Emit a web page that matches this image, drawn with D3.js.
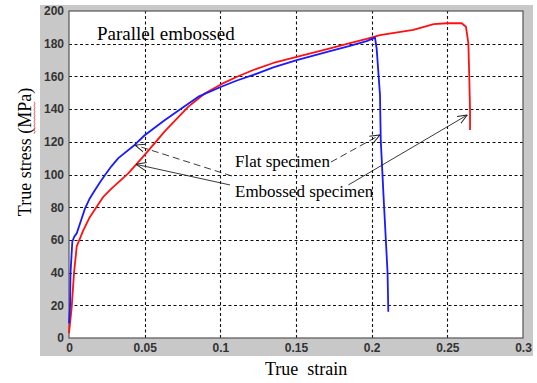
<!DOCTYPE html>
<html>
<head>
<meta charset="utf-8">
<script src="https://cdn.jsdelivr.net/npm/d3@7"></script>
<style>
  body { margin: 0; background: #fff; }
  .tick-label { font-family: "Liberation Sans", Arial, sans-serif; font-size: 12px; font-weight: bold; fill: #333; }
  .serif { font-family: "Liberation Serif", "Times New Roman", serif; fill: #000; }
</style>
</head>
<body>
<div id="chart"></div>
<script>
// x ticks and y ticks
const xTicks = [0, 0.05, 0.1, 0.15, 0.2, 0.25, 0.3];
const yTicks = [0, 20, 40, 60, 80, 100, 120, 140, 160, 180, 200];

// flat specimen (blue): [strain, stress]
const flatStrain = [0, 0.0007, 0.001, 0.0022, 0.0035, 0.0051, 0.008, 0.0106, 0.0135, 0.0172, 0.0205, 0.0238, 0.028, 0.0326, 0.0425, 0.050, 0.0634,
  0.0745, 0.0855, 0.101, 0.111, 0.1218, 0.135, 0.1505, 0.1725, 0.185, 0.1967, 0.2022, 0.2033, 0.2055, 0.206, 0.208, 0.2105, 0.211];
const flatStress = [9, 19, 39.6, 59, 62, 64, 72, 79.3, 85, 90.5, 95.3, 99.7, 105, 110, 117.4, 124, 133.3,
  140.5, 147.6, 153.8, 157.5, 160.9, 165.5, 170, 175.5, 178.5, 181.6, 183.7, 177, 148.6, 121, 84, 40, 16];

// embossed specimen (red)
const embStrain = [0, 0.0018, 0.0033, 0.0051, 0.0095, 0.0135, 0.0183, 0.0228, 0.0282, 0.039, 0.05, 0.0634, 0.0789, 0.0899,
  0.101, 0.111, 0.1218, 0.135, 0.1505, 0.1725, 0.185, 0.1967, 0.2055, 0.2275, 0.241, 0.2496, 0.2595, 0.2623, 0.2639, 0.2645, 0.265, 0.265];
const embStress = [3, 19, 39.6, 56, 66, 73.5, 80.3, 86.5, 91.5, 100.5, 112, 126.5, 141.5, 149.7,
  155.4, 159.8, 163.9, 168.2, 172, 177.2, 180.2, 182.9, 185.3, 188.5, 192, 192.5, 192.5, 190.4, 180.2, 159.8, 139.4, 127.2];

// annotation arrows: [fromX, fromY, toX, toY] in data units
const flatArrows = [[0.1076, 99.1, 0.0436, 118], [0.1731, 107.6, 0.2055, 124.2]];
const embArrows = [[0.1064, 93.6, 0.0443, 106.2], [0.1846, 93.6, 0.2632, 136.4]];

const W = 537, H = 383;
const margin = {left: 69, top: 11, right: 14, bottom: 45};

const svg = d3.select("#chart").append("svg")
  .attr("width", W).attr("height", H);

// gray figure background
svg.append("rect").attr("x", 40).attr("y", 5).attr("width", 493).attr("height", 351)
  .attr("fill", "#c8c8c8");

const x = d3.scaleLinear().domain([0, 0.3]).range([margin.left, W - margin.right]);
const y = d3.scaleLinear().domain([0, 200]).range([H - margin.bottom, margin.top]);

svg.append("rect")
  .attr("x", x(0)).attr("y", y(200))
  .attr("width", x(0.3) - x(0)).attr("height", y(0) - y(200))
  .attr("fill", "#fff");

// grid
const grid = svg.append("g").attr("stroke", "#111").attr("stroke-width", 1.1).attr("stroke-dasharray", "3,2.5");
grid.selectAll(".gx").data(xTicks.slice(1, -1)).enter().append("line")
  .attr("x1", d => Math.round(x(d)) + 0.5).attr("x2", d => Math.round(x(d)) + 0.5)
  .attr("y1", y(0)).attr("y2", y(200));
grid.selectAll(".gy").data(yTicks.slice(1, -1)).enter().append("line")
  .attr("y1", d => Math.round(y(d)) + 0.5).attr("y2", d => Math.round(y(d)) + 0.5)
  .attr("x1", x(0)).attr("x2", x(0.3));

// axes
const xAxis = svg.append("g").attr("transform", `translate(0,${y(0)})`)
  .call(d3.axisBottom(x).tickValues(xTicks).tickSize(0).tickPadding(5).tickFormat(d => d3.format("")(d)));
const yAxis = svg.append("g").attr("transform", `translate(${x(0)},0)`)
  .call(d3.axisLeft(y).tickValues(yTicks).tickSize(0).tickPadding(5));
[xAxis, yAxis].forEach(a => {
  a.select(".domain").remove();
  a.selectAll("text").attr("class", "tick-label");
});

// frame
svg.append("rect")
  .attr("x", x(0)).attr("y", y(200))
  .attr("width", x(0.3) - x(0)).attr("height", y(0) - y(200))
  .attr("fill", "none").attr("stroke", "#555").attr("stroke-width", 1.2);

const line = d3.line().x(d => x(d[0])).y(d => y(d[1]));

svg.append("path")
  .datum(embStrain.map((s, i) => [s, embStress[i]]))
  .attr("d", line).attr("fill", "none").attr("stroke", "#ff1010").attr("stroke-width", 1.8)
  .attr("stroke-linejoin", "round");
svg.append("path")
  .datum(flatStrain.map((s, i) => [s, flatStress[i]]))
  .attr("d", line).attr("fill", "none").attr("stroke", "#1a1aff").attr("stroke-width", 1.8)
  .attr("stroke-linejoin", "round");

// arrows
const defs = svg.append("defs");
defs.append("marker").attr("id", "head")
  .attr("viewBox", "0 0 10 10").attr("refX", 10).attr("refY", 5)
  .attr("markerWidth", 10).attr("markerHeight", 10).attr("markerUnits", "userSpaceOnUse")
  .attr("orient", "auto")
  .append("path").attr("d", "M0,1 L10,5 L0,9").attr("fill", "none").attr("stroke", "#222").attr("stroke-width", 1);

svg.selectAll(".flat-arrow").data(flatArrows).enter().append("line")
  .attr("x1", d => x(d[0])).attr("y1", d => y(d[1]))
  .attr("x2", d => x(d[2])).attr("y2", d => y(d[3]))
  .attr("stroke", "#222").attr("stroke-width", 0.9).attr("stroke-dasharray", "7,4")
  .attr("marker-end", "url(#head)");
svg.selectAll(".emb-arrow").data(embArrows).enter().append("line")
  .attr("x1", d => x(d[0])).attr("y1", d => y(d[1]))
  .attr("x2", d => x(d[2])).attr("y2", d => y(d[3]))
  .attr("stroke", "#222").attr("stroke-width", 0.9)
  .attr("marker-end", "url(#head)");

// texts
svg.append("text").attr("class", "serif").attr("font-size", 19)
  .attr("x", x(0.0185)).attr("y", y(182.3)).text("Parallel embossed");
svg.append("text").attr("class", "serif").attr("font-size", 17)
  .attr("x", x(0.1097)).attr("y", y(104.6)).text("Flat specimen");
svg.append("text").attr("class", "serif").attr("font-size", 17)
  .attr("x", x(0.1097)).attr("y", y(86.2)).text("Embossed specimen");

svg.append("text").attr("class", "serif").attr("font-size", 18)
  .attr("x", 265).attr("y", 375).style("white-space", "pre")
  .text("True  strain");

const yl = svg.append("text").attr("class", "serif").attr("font-size", 18)
  .attr("text-anchor", "middle")
  .attr("transform", "translate(31,152) rotate(-90)")
  .text("True stress (MPa)");

// red spell-check squiggle under "MPa"
const node = yl.node();
const full = node.getComputedTextLength();
const start = node.getSubStringLength(0, 12) - full / 2;
const len = node.getSubStringLength(12, 3);
let sq = "";
for (let i = 0; i <= len; i += 2) sq += (i === 0 ? "M" : "L") + (start + i) + "," + (3 + (i / 2 % 2));
svg.append("path").attr("transform", "translate(31,152) rotate(-90)")
  .attr("d", sq).attr("fill", "none").attr("stroke", "#e03030").attr("stroke-width", 0.8);
</script>
</body>
</html>
